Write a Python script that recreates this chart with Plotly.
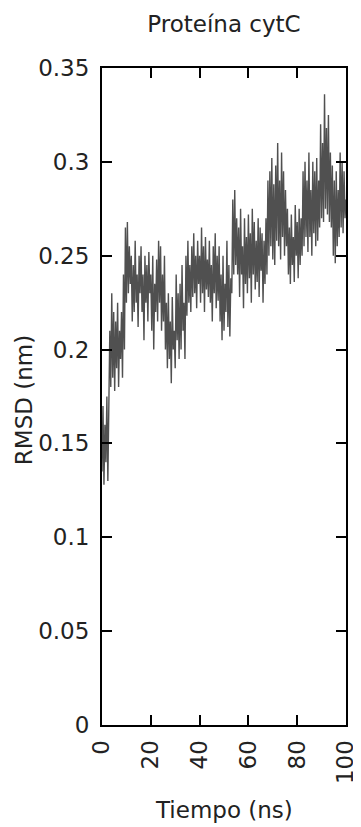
import plotly.graph_objects as go

# Time axis: 0 to 100 ns, sampled every 0.4 ns
time_step_ns = 0.4
rmsd_nm = [
    0.135, 0.17, 0.128, 0.16, 0.14, 0.175, 0.13, 0.165, 0.21, 0.18,
    0.23, 0.185, 0.22, 0.178, 0.215, 0.19, 0.225, 0.18, 0.21, 0.195,
    0.22, 0.185, 0.24, 0.2, 0.265, 0.225, 0.268, 0.23, 0.255, 0.235,
    0.25, 0.215, 0.245, 0.22, 0.258, 0.225, 0.24, 0.212, 0.25, 0.23,
    0.255, 0.22, 0.24, 0.205, 0.25, 0.225, 0.245, 0.215, 0.252, 0.23,
    0.24, 0.21, 0.25, 0.2, 0.235, 0.22, 0.248, 0.215, 0.258, 0.225,
    0.255, 0.21, 0.24, 0.215, 0.25, 0.2, 0.225, 0.19, 0.23, 0.195,
    0.215, 0.182, 0.228, 0.2, 0.21, 0.19, 0.24, 0.205, 0.23, 0.195,
    0.235, 0.2, 0.245, 0.21, 0.225, 0.195, 0.25, 0.218, 0.258, 0.225,
    0.245, 0.22, 0.255, 0.228, 0.262, 0.23, 0.25, 0.222, 0.258, 0.235,
    0.25, 0.225, 0.265, 0.23, 0.255, 0.22, 0.26, 0.232, 0.248, 0.228,
    0.258, 0.225, 0.245, 0.215, 0.255, 0.23, 0.262, 0.222, 0.25, 0.226,
    0.255, 0.215, 0.24, 0.205, 0.25, 0.21, 0.235, 0.22, 0.258, 0.212,
    0.245, 0.207, 0.238, 0.23, 0.28, 0.24, 0.285, 0.245, 0.27, 0.24,
    0.265, 0.228, 0.275, 0.24, 0.255, 0.222, 0.27, 0.235, 0.26, 0.23,
    0.272, 0.238, 0.262, 0.225, 0.275, 0.24, 0.268, 0.232, 0.258, 0.236,
    0.27, 0.228, 0.265, 0.242, 0.262, 0.225, 0.258, 0.235, 0.27, 0.24,
    0.29, 0.25, 0.295, 0.255, 0.302, 0.248, 0.288, 0.245, 0.298, 0.258,
    0.31, 0.255, 0.29, 0.248, 0.305, 0.26, 0.295, 0.25, 0.285, 0.255,
    0.275, 0.24, 0.265, 0.235, 0.272, 0.245, 0.26, 0.236, 0.277, 0.25,
    0.268, 0.238, 0.275, 0.245, 0.27, 0.25, 0.295, 0.255, 0.3, 0.26,
    0.29, 0.252, 0.305, 0.26, 0.285, 0.25, 0.3, 0.262, 0.295, 0.255,
    0.302, 0.258, 0.29, 0.265, 0.32, 0.27, 0.31, 0.268, 0.336, 0.275,
    0.318, 0.272, 0.325, 0.268, 0.305, 0.265, 0.298, 0.25, 0.29, 0.246,
    0.295, 0.255, 0.285, 0.26, 0.305, 0.265, 0.3, 0.262, 0.295, 0.27, 0.28,
]
time_ns = [round(i * time_step_ns, 2) for i in range(len(rmsd_nm))]

x_ticks = [0, 20, 40, 60, 80, 100]
y_ticks = [0, 0.05, 0.1, 0.15, 0.2, 0.25, 0.3, 0.35]
y_tick_labels = ["0", "0.05", "0.1", "0.15", "0.2", "0.25", "0.3", "0.35"]

title_text = "Proteína cytC"
x_title = "Tiempo (ns)"
y_title = "RMSD (nm)"

FONT = "DejaVu Sans"
TEXT = "#222222"
FS = 23

# the page body adds an 8px offset, so the figure is drawn 8px smaller
W, H = 353, 819
L, T = 94, 60
PW, PH = 244.5, 657
R, B = W - L - PW, H - T - PH

fig = go.Figure()
fig.add_trace(go.Scatter(
    x=time_ns, y=rmsd_nm, mode="lines",
    line=dict(color="#505050", width=1.4),
    hoverinfo="skip", showlegend=False,
))

axis_common = dict(
    showgrid=False, zeroline=False, automargin=False,
    showline=True, linecolor="black", linewidth=2, mirror="allticks",
    ticks="inside", ticklen=10, tickwidth=2, tickcolor="black",
    tickfont=dict(family=FONT, size=FS, color=TEXT),
)

fig.update_layout(
    width=W, height=H,
    margin=dict(l=L, r=R, t=T, b=B),
    paper_bgcolor="white", plot_bgcolor="white",
    title=dict(text=title_text, x=0.5, xref="paper", y=1 - 16 / H, yref="container",
               xanchor="center", yanchor="middle",
               font=dict(family=FONT, size=FS, color=TEXT)),
    xaxis=dict(range=[0, 100], tickvals=x_ticks, ticktext=[str(v) for v in x_ticks],
               tickangle=-90, ticklabelstandoff=4, **axis_common),
    yaxis=dict(range=[0, 0.35], tickvals=y_ticks, ticktext=y_tick_labels,
               ticklabelstandoff=6, **axis_common),
    annotations=[
        dict(text=x_title, xref="paper", yref="paper", x=0.5, y=(PH - (802 - T)) / PH,
             xanchor="center", yanchor="middle", showarrow=False,
             font=dict(family=FONT, size=FS, color=TEXT)),
        dict(text=y_title, xref="paper", yref="paper", x=(16 - L) / PW, y=(725 - 400) / PH,
             xanchor="center", yanchor="middle", textangle=-90, showarrow=False,
             font=dict(family=FONT, size=FS, color=TEXT)),
    ],
)

fig.write_html("out.html")
